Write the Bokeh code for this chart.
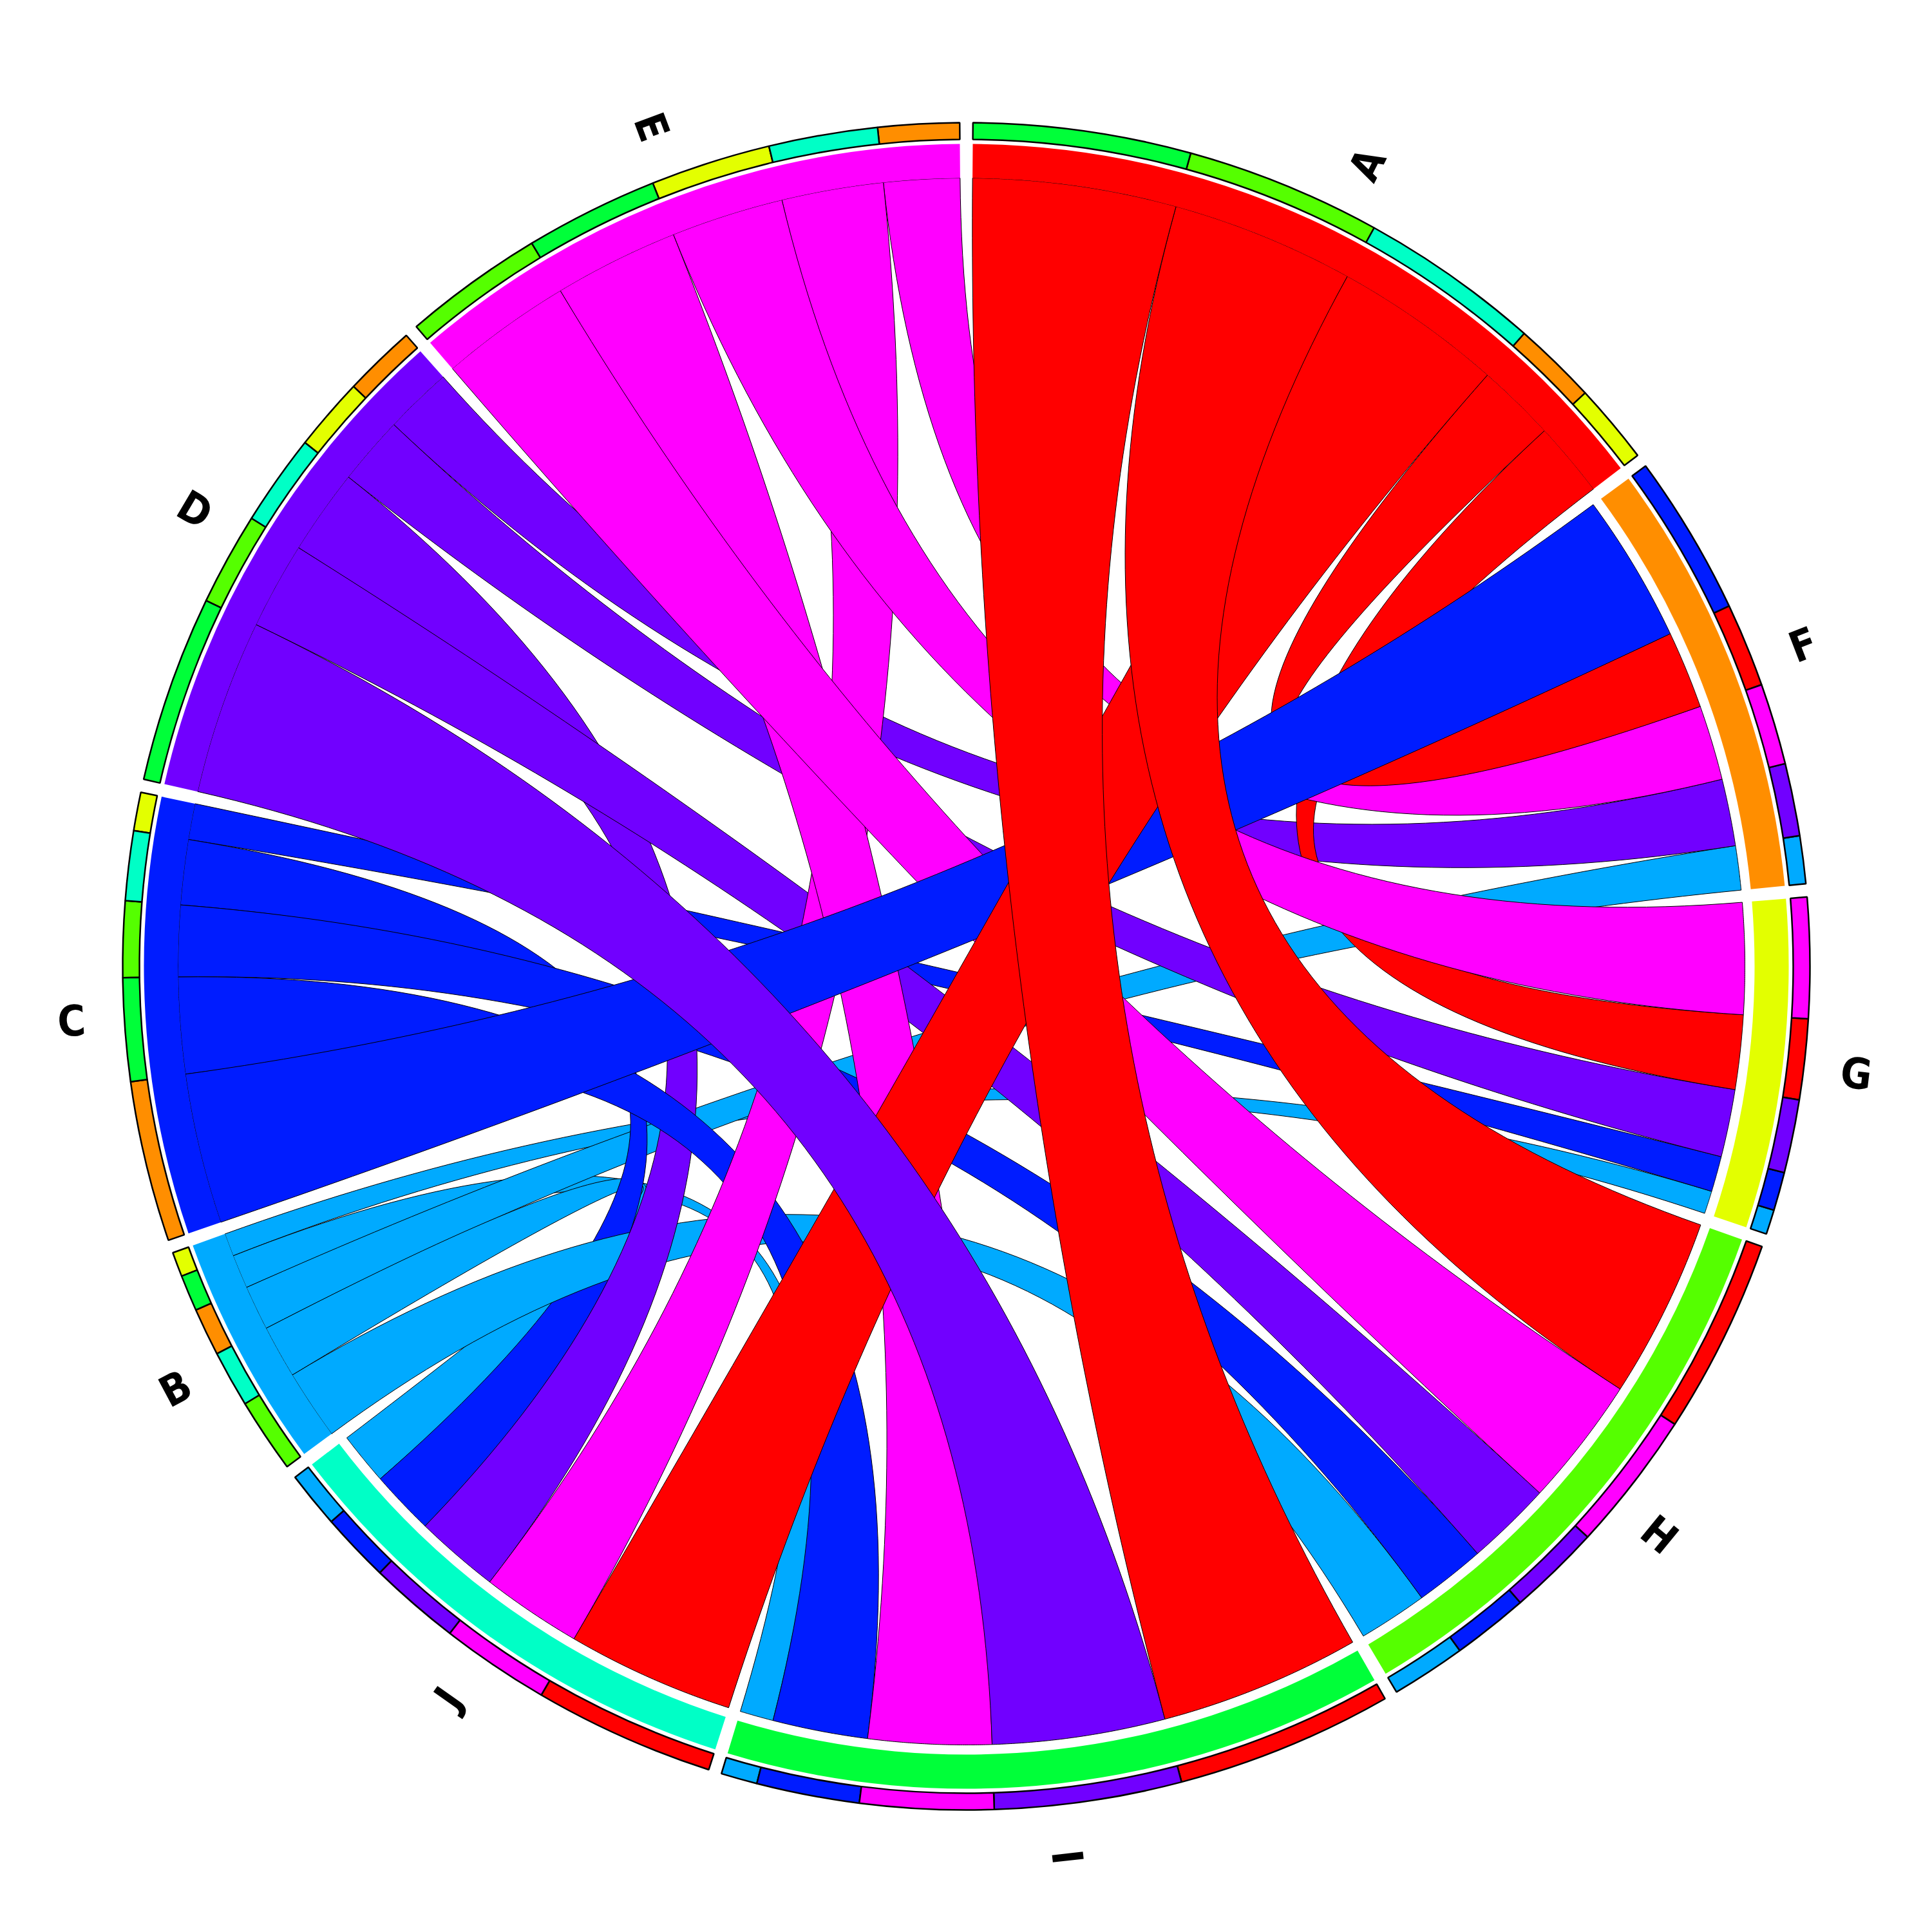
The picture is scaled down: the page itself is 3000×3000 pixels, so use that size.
import math
from bokeh.plotting import figure
from bokeh.models import Range1d, ColumnDataSource
from bokeh.embed import file_html
from bokeh.resources import INLINE
from bokeh.core.properties import value

# ---------------- data ----------------
sector_order = ["A", "F", "G", "H", "I", "J", "B", "C", "D", "E"]
sources = ["A", "B", "C", "D", "E"]
targets = ["F", "G", "H", "I", "J"]

# flow from each source to targets F, G, H, I, J
flow_A = [5.8, 5.55, 13.5, 15.0, 12.5]
flow_B = [3.3, 1.7, 5.15, 2.5, 3.9]
flow_C = [11.1, 2.65, 5.25, 7.1, 4.8]
flow_D = [5.0, 5.05, 6.4, 12.9, 6.3]
flow_E = [5.6, 8.3, 9.7, 9.2, 7.5]

flows = {"A": flow_A, "B": flow_B, "C": flow_C, "D": flow_D, "E": flow_E}

colors = {
    "A": "#FF0000", "F": "#FF8E00", "G": "#E3FF00", "H": "#55FF00", "I": "#00FF39",
    "J": "#00FFC6", "B": "#00AAFF", "C": "#001CFF", "D": "#7100FF", "E": "#FF00FF",
}

# ---------------- geometry ----------------
CX, CY = 1500.0, 1500.0
R_RING_OUT, R_RING_IN = 1310.0, 1284.0
R_BAND_OUT, R_BAND_IN = 1277.0, 1224.0
R_SRC, R_TGT = 1224.0, 1209.0
R_LABEL = 1392.0
GAP = 0.9  # degrees between sectors

links = [(s, t, flows[s][j]) for s in sources for j, t in enumerate(targets)]
total = sum(v for _, _, v in links)
deg_per = (360.0 - GAP * len(sector_order)) / (2 * total)

sector_sum = {s: sum(flows[s]) for s in sources}
for j, t in enumerate(targets):
    sector_sum[t] = sum(flows[s][j] for s in sources)

start = {}
pos = GAP / 2
for name in sector_order:
    start[name] = pos
    pos += sector_sum[name] * deg_per + GAP

span_src, span_tgt = {}, {}
for s in sources:
    p0 = start[s]
    for t, v in sorted([(t, flows[s][j]) for j, t in enumerate(targets)], key=lambda x: -x[1]):
        span_src[(s, t)] = (p0, p0 + v * deg_per)
        p0 += v * deg_per
for j, t in enumerate(targets):
    p0 = start[t]
    for s, v in sorted([(s, flows[s][j]) for s in sources], key=lambda x: -x[1]):
        span_tgt[(s, t)] = (p0, p0 + v * deg_per)
        p0 += v * deg_per


def pt(theta, r):
    a = math.radians(theta)
    return CX + r * math.sin(a), CY + r * math.cos(a)


def arc(t1, t2, r, n=60):
    return [pt(t1 + (t2 - t1) * i / (n - 1), r) for i in range(n)]


def bez(p0, p2, n=80):
    out = []
    for i in range(n):
        u = i / (n - 1)
        x = (1 - u) ** 2 * p0[0] + 2 * u * (1 - u) * CX + u ** 2 * p2[0]
        y = (1 - u) ** 2 * p0[1] + 2 * u * (1 - u) * CY + u ** 2 * p2[1]
        out.append((x, y))
    return out


p = figure(width=3000, height=3000, x_range=Range1d(0, 3000), y_range=Range1d(0, 3000),
           output_backend="svg", toolbar_location=None, min_border=0)
p.axis.visible = False
p.grid.visible = False
p.outline_line_color = None
p.background_fill_color = "white"
p.border_fill_color = "white"

# chords (largest drawn on top)
xs, ys, fc = [], [], []
for s, t, v in sorted(links, key=lambda l: l[2]):
    a1, a2 = span_src[(s, t)]
    b1, b2 = span_tgt[(s, t)]
    poly = (arc(a1, a2, R_SRC) + bez(pt(a2, R_SRC), pt(b1, R_TGT)) +
            arc(b1, b2, R_TGT) + bez(pt(b2, R_TGT), pt(a1, R_SRC)))
    xs.append([q[0] for q in poly])
    ys.append([q[1] for q in poly])
    fc.append(colors[s])
p.patches(xs=xs, ys=ys, fill_color=fc, line_color="black", line_width=1)

# grid band per sector
band = dict(x=[], y=[], sa=[], ea=[], c=[])
for name in sector_order:
    t1 = start[name]
    t2 = t1 + sector_sum[name] * deg_per
    band["x"].append(CX); band["y"].append(CY)
    band["sa"].append(math.radians(90 - t2)); band["ea"].append(math.radians(90 - t1))
    band["c"].append(colors[name])
p.annular_wedge(x="x", y="y", inner_radius=R_BAND_IN, outer_radius=R_BAND_OUT,
                start_angle="sa", end_angle="ea", fill_color="c", line_color=None,
                source=ColumnDataSource(band))

# outer ring segments
ring = dict(x=[], y=[], sa=[], ea=[], c=[])
for s, t, v in links:
    for (t1, t2), col in ((span_src[(s, t)], colors[t]), (span_tgt[(s, t)], colors[s])):
        ring["x"].append(CX); ring["y"].append(CY)
        ring["sa"].append(math.radians(90 - t2)); ring["ea"].append(math.radians(90 - t1))
        ring["c"].append(col)
p.annular_wedge(x="x", y="y", inner_radius=R_RING_IN, outer_radius=R_RING_OUT,
                start_angle="sa", end_angle="ea", fill_color="c", line_color="black",
                line_width=2.5, source=ColumnDataSource(ring))

# labels
lab = dict(x=[], y=[], t=[], a=[])
for name in sector_order:
    mid = start[name] + sector_sum[name] * deg_per / 2
    x, y = pt(mid, R_LABEL)
    lab["x"].append(x); lab["y"].append(y); lab["t"].append(name)
    ang = (90 - mid) if mid < 180 else (270 - mid)
    lab["a"].append(math.radians(ang))
p.text(x="x", y="y", text="t", angle="a", source=ColumnDataSource(lab),
       text_font=value("DejaVu Sans Condensed, sans-serif"), text_font_style="bold",
       text_font_size="66px", text_align="center", text_baseline="middle", text_color="black")

open("out.html", "w").write(file_html(p, INLINE))
